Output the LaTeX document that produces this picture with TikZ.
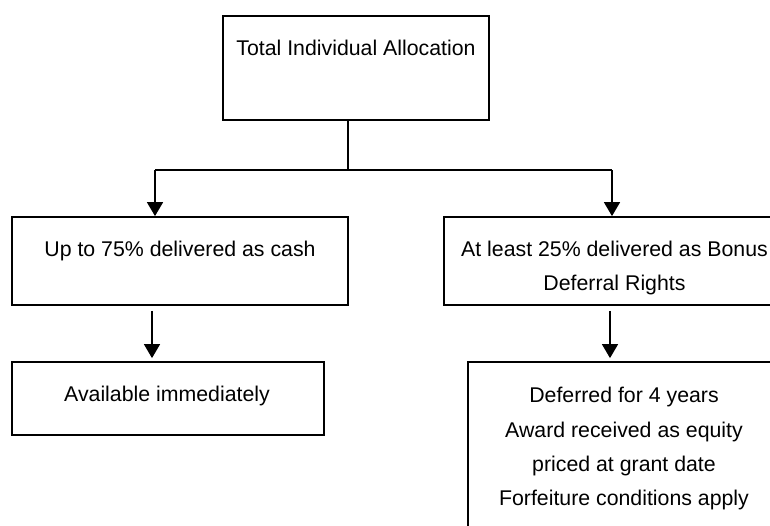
\documentclass[tikz,border=0pt]{standalone}
\usepackage{fontspec}
\setmainfont{Liberation Sans}
\usetikzlibrary{arrows.meta}
\begin{document}
\begin{tikzpicture}[x=1pt,y=-1pt,
  box/.style={draw,line width=1.8pt,rectangle,inner sep=0pt},
  txt/.style={font=\fontsize{21.3}{35}\selectfont,inner sep=0pt,anchor=base},
  arr/.style={line width=1.7pt,-{Triangle[width=16pt,length=14pt]}},
  ln/.style={line width=2pt}]
\useasboundingbox (0,0) rectangle (770,525);
\clip (0,0) rectangle (770,525);
% boxes
\node[box,minimum width=266pt,minimum height=104pt] (top) at (356,68) {};
\node[box,minimum width=336pt,minimum height=88pt] (L1) at (180,261) {};
\node[box,minimum width=312pt,minimum height=73pt] (L2) at (168,398.5) {};
\node[box,minimum width=340pt,minimum height=88pt] (R1) at (614,261) {};
\node[box,minimum width=312pt,minimum height=180pt] (R2) at (624,452) {};
% texts
\node[txt] (t0) at (356,55) {Total Individual Allocation};
\node[txt] (t1) at (180,256) {Up to 75\% delivered as cash};
\node[txt] (t2) at (167,401) {Available immediately};
\node[txt] (t3a) at (614.5,256) {At least 25\% delivered as Bonus};
\node[txt] (t3b) at (614.5,290) {Deferral Rights};
\node[txt] (t4a) at (624,402) {Deferred for 4 years};
\node[txt] (t4b) at (624,437) {Award received as equity};
\node[txt] (t4c) at (624,471) {priced at grant date};
\node[txt] (t4d) at (624,505) {Forfeiture conditions apply};
% connectors
\coordinate (j) at (348,170);
\coordinate (jl) at (155,170);
\coordinate (jr) at (612,170);
\coordinate (xl) at (152,0);
\coordinate (xr) at (610,0);
\draw[ln] (top.south -| j) -- (j);
\draw[ln] (jl) -- (jr);
\draw[arr] (jl) -- (jl |- L1.north);
\draw[arr] (jr) -- (jr |- R1.north);
\draw[arr,line width=1.5pt,shorten <=5pt,shorten >=3pt] (xl |- L1.south) -- (xl |- L2.north);
\draw[arr,line width=1.5pt,shorten <=5pt,shorten >=3pt] (xr |- R1.south) -- (xr |- R2.north);
\end{tikzpicture}
\end{document}
